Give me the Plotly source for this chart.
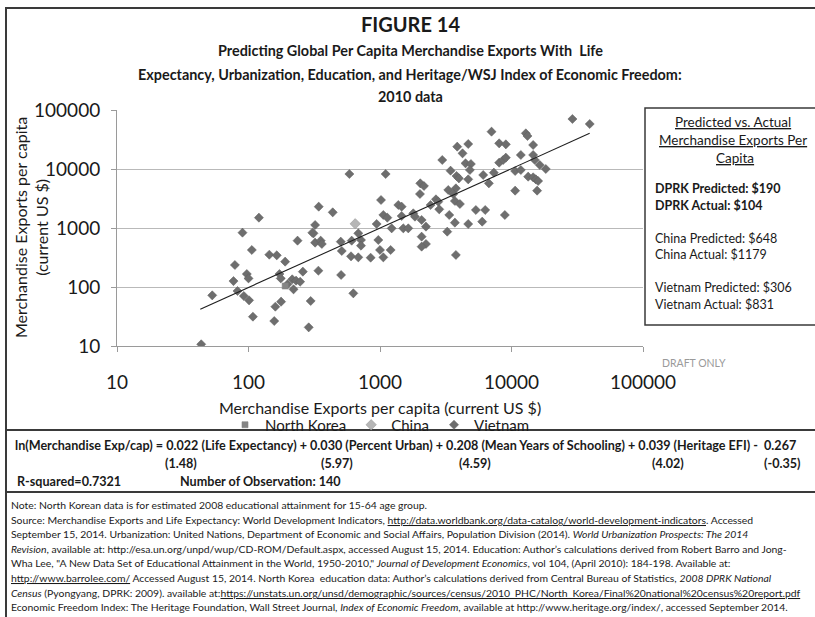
import plotly.graph_objects as go

# ---------------- data ----------------
# predicted merchandise exports per capita (x) vs actual (y), all countries
pred_x = [43.7, 53.0, 78.8, 76.9, 82.5, 90.0, 92.2, 97.1, 100, 101, 106, 108, 120, 144, 164, 160, 157,
          172, 176, 177, 190, 198, 215, 220, 230, 247, 236, 259, 287, 297, 321, 312, 321, 342, 340,
          354, 361, 437, 503, 512, 506, 585, 602, 609, 627, 684, 684, 717, 717, 849, 943, 971, 1000,
          1018, 1060, 1104, 1060, 1137, 1205, 1227, 1378, 1461, 1461, 1504, 1641, 1791, 1845,
          2025, 2159, 2013, 2073, 2236, 2073, 2236, 2073,
          2975, 3867, 4688, 4244, 4473, 4911, 4826, 3441, 3822, 3981, 4688, 6093, 6727, 7341, 7049,
          8058, 9057, 8058, 8644, 9057, 11770, 12850,
          13230, 14610, 10660, 11770, 14610, 15040, 13390, 14610, 15300, 15940, 16410, 18230, 10660,
          15660, 3304, 3777, 3606, 3711, 4052, 2663, 2773, 2426, 2822, 3362, 3711, 4688, 5358, 6310,
          5988, 8900, 3247, 3777,
          29070, 39340]
actual_y = [10.7, 72.2, 236, 126, 85.5, 834, 70.4, 166, 140, 59.4, 424, 31.4, 1497, 353, 344, 46.4, 26.5,
            166, 140, 56.4, 269, 111, 135, 91.3, 128, 123, 610, 182, 20.7, 57.9, 1124, 812, 564, 2299, 189,
            610, 536, 1843, 587, 408, 160, 8228, 331, 610, 78.1, 812, 318, 626, 502, 314, 1169, 626, 424,
            2983, 318, 8228, 1661, 1497, 424, 987, 2454, 2299, 1598, 987, 987, 1773, 1556,
            5717, 5151, 3770, 1367, 1054, 713, 536, 483,
            14210, 23900, 26530, 18430, 12470, 12150, 9618, 9371, 7610, 6948, 6680, 7914, 5717, 8668, 42930,
            27230, 26190, 12800, 14210, 15560, 17280, 40220,
            36250, 25510, 9250, 9618, 17280, 14210, 7413, 7225, 6680, 6260, 11690, 10000, 4294,
            4294, 4407, 4701, 3770, 2868, 2551, 3061, 2795, 2454, 2072, 1661, 1231, 1169, 2019, 2019,
            1280, 1661, 867, 349,
            70400, 57900]

special_names = ["North Korea", "China", "Vietnam"]
special_short = ["DPRK", "China", "Vietnam"]
special_pred = [190, 648, 306]
special_actual = [104, 1179, 831]

trend_x = [43, 39300]
trend_y = [42, 40200]

tick_vals = [10, 100, 1000, 10000, 100000]
tick_text = ["10", "100", "1000", "10000", "100000"]

coef_values = ["0.022", "0.030", "0.208", "0.039", "0.267"]
coef_names = ["Life Expectancy", "Percent Urban", "Mean Years of Schooling", "Heritage EFI"]
t_stats = ["(1.48)", "(5.97)", "(4.59)", "(4.02)", "(-0.35)"]
r_squared = "0.7321"
n_obs = 140

# ---------------- layout helpers ----------------
W, H = 815, 617
L, R, T, B = 117, 643, 110, 346


def fx(px):
    return (px - L) / (R - L)


def fy(py):
    return (B - py) / (B - T)


FONT = "Lato, Carlito, Calibri, sans-serif"
TXT = "#1a1a1a"

fig = go.Figure()

fig.add_trace(go.Scatter(
    x=pred_x, y=actual_y, mode="markers", showlegend=False, name="All countries",
    marker=dict(symbol="diamond", size=7, color="#6e6e6e", line=dict(width=0.5, color="#5e5e5e"))))

sym = ["square", "diamond", "diamond"]
cols = ["#858585", "#b6b6b6", "#6e6e6e"]
sizes = [6, 8, 7]
for i, nm in enumerate(special_names):
    fig.add_trace(go.Scatter(
        x=[special_pred[i]], y=[special_actual[i]], mode="markers", name=nm,
        marker=dict(symbol=sym[i], size=sizes[i], color=cols[i],
                    line=dict(width=0.6, color="#9a9a9a" if i == 1 else cols[i]))))

fig.add_trace(go.Scatter(x=trend_x, y=trend_y, mode="lines", showlegend=False,
                         line=dict(color="#1e1e1e", width=1.1)))

axis_common = dict(type="log", range=[1, 5], tickvals=tick_vals, ticktext=tick_text,
                   tickfont=dict(family=FONT, size=19, color=TXT),
                   ticks="outside", ticklen=5, tickcolor="#9a9a9a",
                   showline=True, linecolor="#9a9a9a", linewidth=1, zeroline=False)
fig.update_xaxes(**axis_common, showgrid=False, ticklabelstandoff=14)
fig.update_yaxes(**axis_common, showgrid=True, gridcolor="#b9b9b9", gridwidth=1.2,
                 ticklabelstandoff=7)

ann = []


def add_text(text, px, py, size, xanchor="center", color=TXT, angle=0):
    ann.append(dict(text=text, x=fx(px), y=fy(py), xref="paper", yref="paper",
                    xanchor=xanchor, yanchor="middle", showarrow=False, textangle=angle,
                    font=dict(family=FONT, size=size, color=color)))


# titles
add_text("<b>FIGURE 14</b>", 410, 24, 20)
add_text("<b>Predicting Global Per Capita Merchandise Exports With  Life</b>", 410, 50, 14.4)
add_text("<b>Expectancy, Urbanization, Education, and Heritage/WSJ Index of Economic Freedom:</b>", 410, 74, 14.4)
add_text("<b>2010 data</b>", 410, 97, 14.4)

# axis titles
add_text("Merchandise Exports per capita<br>(current US $)", 31, 228, 16, angle=-90)
add_text("Merchandise Exports per capita (current US $)", 380, 407, 16)
add_text("DRAFT ONLY", 694, 363, 10.5, color="#9a9a9a")

# right-hand box
add_text("<u>Predicted vs. Actual</u>", 733, 122, 13.5)
add_text("<u>Merchandise Exports Per</u>", 733, 140, 13.5)
add_text("<u>Capita</u>", 735, 158, 13.5)
box_y = [(188, 205), (238, 255), (287, 304)]
for i in range(3):
    pre, post = ("<b>", "</b>") if i == 0 else ("", "")
    add_text(f"{pre}{special_short[i]} Predicted: ${special_pred[i]}{post}", 653, box_y[i][0], 12.5, xanchor="left")
    add_text(f"{pre}{special_short[i]} Actual: ${special_actual[i]}{post}", 653, box_y[i][1], 12.5, xanchor="left")

# regression equation
eq = (f"ln(Merchandise Exp/cap) = {coef_values[0]} ({coef_names[0]}) + {coef_values[1]} ({coef_names[1]}) + "
      f"{coef_values[2]} ({coef_names[2]}) + {coef_values[3]} ({coef_names[3]}) -  {coef_values[4]}")
add_text(f"<b>{eq}</b>", 13, 445, 12.6, xanchor="left")
t_x = [181, 337, 475, 668, 782]
for tx, ts in zip(t_x, t_stats):
    add_text(f"<b>{ts}</b>", tx, 463, 12.6)
add_text(f"<b>R-squared={r_squared}</b>", 15, 481, 12.6, xanchor="left")
add_text(f"<b>Number of Observation: {n_obs}</b>", 178, 481, 12.6, xanchor="left")

# notes
notes = [
    "Note: North Korean data is for estimated 2008 educational attainment for 15-64 age group.",
    "Source: Merchandise Exports and Life Expectancy: World Development Indicators, "
    "<u>http://data.worldbank.org/data-catalog/world-development-indicators</u>. Accessed",
    "September 15, 2014. Urbanization: United Nations, Department of Economic and Social Affairs, Population Division (2014). "
    "<i>World Urbanization Prospects: The 2014</i>",
    "<i>Revision</i>, available at: http://esa.un.org/unpd/wup/CD-ROM/Default.aspx, accessed August 15, 2014. "
    "Education: Author\u2019s calculations derived from Robert Barro and Jong-",
    "Wha Lee, \"A New Data Set of Educational Attainment in the World, 1950-2010,\" "
    "<i>Journal of Development Economics</i>, vol 104, (April 2010): 184-198. Available at:",
    "<u>http://www.barrolee.com/</u> Accessed August 15, 2014. North Korea  education data: Author\u2019s calculations "
    "derived from Central Bureau of Statistics, <i>2008 DPRK National</i>",
    "<i>Census</i> (Pyongyang, DPRK: 2009). available at:"
    "<u>https://unstats.un.org/unsd/demographic/sources/census/2010_PHC/North_Korea/Final%20national%20census%20report.pdf</u>",
    "Economic Freedom Index: The Heritage Foundation, Wall Street Journal, <i>Index of Economic Freedom</i>, "
    "available at http://www.heritage.org/index/, accessed September 2014.",
]
for k, line in enumerate(notes):
    add_text(line, 9, 505 + k * 14.6, 10.4, xanchor="left")

shapes = [
    dict(type="rect", xref="paper", yref="paper", x0=fx(6), y0=fy(8), x1=fx(840), y1=fy(640),
         line=dict(color="#3a3a3a", width=2)),
    dict(type="line", xref="paper", yref="paper", x0=fx(6), x1=fx(840), y0=fy(430), y1=fy(430),
         line=dict(color="#3a3a3a", width=2)),
    dict(type="line", xref="paper", yref="paper", x0=fx(6), x1=fx(840), y0=fy(492), y1=fy(492),
         line=dict(color="#3a3a3a", width=2)),
    dict(type="rect", xref="paper", yref="paper", x0=fx(645), y0=fy(108), x1=fx(840), y1=fy(325),
         line=dict(color="#3a3a3a", width=1.5)),
]

fig.update_layout(
    width=W, height=H,
    margin=dict(l=L, r=W - R, t=T, b=H - B, autoexpand=False),
    paper_bgcolor="white", plot_bgcolor="white",
    annotations=ann, shapes=shapes,
    showlegend=True,
    legend=dict(orientation="h", x=0.5, xanchor="center", y=fy(425), yanchor="middle",
                font=dict(family=FONT, size=15, color=TXT), bgcolor="rgba(0,0,0,0)",
                itemwidth=30, tracegroupgap=0),
)

fig.write_html("out.html", config={"displayModeBar": False},
               post_script="document.body.style.margin='0px';")
